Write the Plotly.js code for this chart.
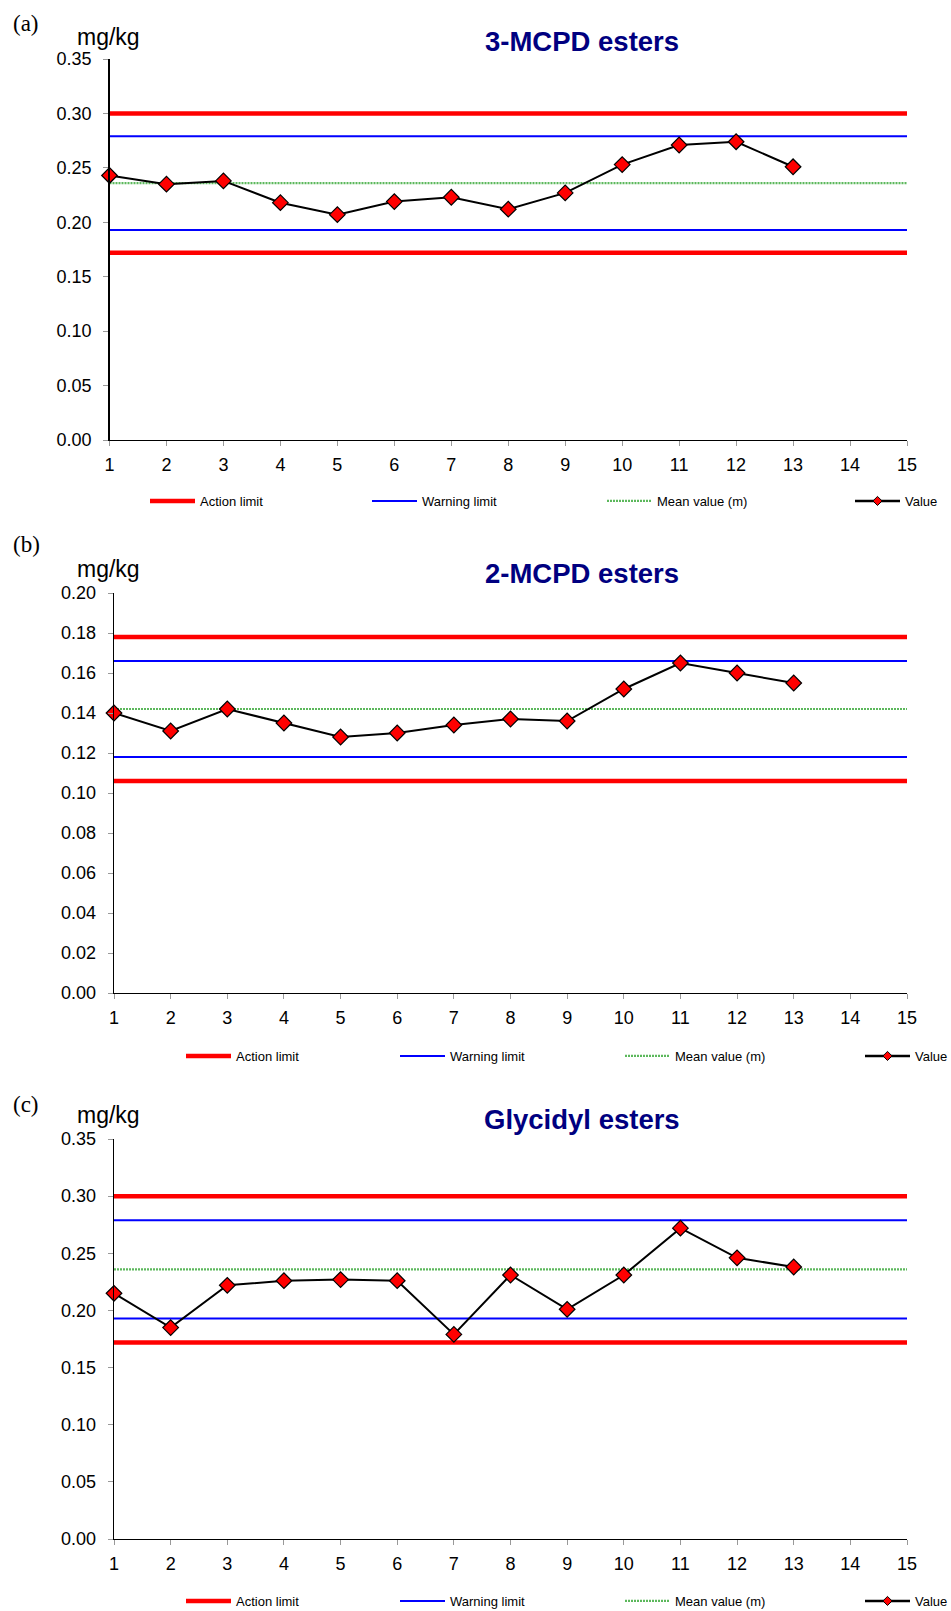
<!DOCTYPE html>
<html><head><meta charset="utf-8">
<script src="https://cdn.plot.ly/plotly-3.0.1.min.js"></script>
<style>html,body{margin:0;padding:0;background:#fff;overflow:hidden}#chart{width:951px;height:1611px}</style>
</head><body><div id="chart"></div>
<script>
// ---------- data ----------
const runs = [1,2,3,4,5,6,7,8,9,10,11,12,13];
const xSpan = [1, 15];
const xTickVals = [1,2,3,4,5,6,7,8,9,10,11,12,13,14,15];

const panelLabels = ['(a)', '(b)', '(c)'];
const panelTitles = ['3-MCPD esters', '2-MCPD esters', 'Glycidyl esters'];
const unitLabel = 'mg/kg';
const legendNames = ['Action limit', 'Warning limit', 'Mean value (m)', 'Value'];

// (a) 3-MCPD esters
const mcpd3Values = [0.243,0.235,0.238,0.218,0.207,0.219,0.223,0.212,0.227,0.253,0.271,0.274,0.251];
const mcpd3Mean = 0.236;
const mcpd3Warning = [0.193, 0.279];
const mcpd3Action = [0.172, 0.300];
const mcpd3YRange = [0, 0.35];
const mcpd3YStep = 0.05;

// (b) 2-MCPD esters
const mcpd2Values = [0.140,0.131,0.142,0.135,0.128,0.130,0.134,0.137,0.136,0.152,0.165,0.160,0.155];
const mcpd2Mean = 0.142;
const mcpd2Warning = [0.118, 0.166];
const mcpd2Action = [0.106, 0.178];
const mcpd2YRange = [0, 0.20];
const mcpd2YStep = 0.02;

// (c) Glycidyl esters
const geValues = [0.215,0.185,0.222,0.226,0.227,0.226,0.179,0.231,0.201,0.231,0.272,0.246,0.238];
const geMean = 0.236;
const geWarning = [0.193, 0.279];
const geAction = [0.172, 0.300];
const geYRange = [0, 0.35];
const geYStep = 0.05;

const panels = [
  {values: mcpd3Values, mean: mcpd3Mean, warn: mcpd3Warning, act: mcpd3Action, yr: mcpd3YRange, step: mcpd3YStep},
  {values: mcpd2Values, mean: mcpd2Mean, warn: mcpd2Warning, act: mcpd2Action, yr: mcpd2YRange, step: mcpd2YStep},
  {values: geValues, mean: geMean, warn: geWarning, act: geAction, yr: geYRange, step: geYStep}
];

// ---------- layout geometry (pixels) ----------
const W = 951, H = 1611;
const geo = [
  {x0: 109.5, x1: 907, top: 59, bottom: 440, legendY: 501, legendX: [150, 372, 607, 855], labelY: 23, unitY: 37, titleY: 41},
  {x0: 114, x1: 907, top: 593, bottom: 993, legendY: 1056, legendX: [186, 400, 625, 865], labelY: 544, unitY: 569, titleY: 573},
  {x0: 114, x1: 907, top: 1139, bottom: 1539, legendY: 1601, legendX: [186, 400, 625, 865], labelY: 1104, unitY: 1115, titleY: 1119}
];
const px = v => v / W;
const py = v => 1 - v / H;

const FONT = 'Liberation Sans, Arial, sans-serif';
const traces = [];
const layout = {
  width: W, height: H,
  margin: {l: 0, r: 0, t: 0, b: 0, autoexpand: false},
  paper_bgcolor: '#fff', plot_bgcolor: '#fff',
  font: {family: FONT, color: '#000'},
  showlegend: true,
  annotations: []
};

panels.forEach((p, i) => {
  const g = geo[i];
  const sfx = i === 0 ? '' : String(i + 1);
  const xa = 'x' + sfx, ya = 'y' + sfx;
  const lg = k => { const n = i * 4 + k + 1; return n === 1 ? 'legend' : 'legend' + n; };

  traces.push({
    type: 'scatter', mode: 'lines', name: legendNames[0], xaxis: xa, yaxis: ya, legend: lg(0),
    x: [xSpan[0], xSpan[1], null, xSpan[0], xSpan[1]],
    y: [p.act[0], p.act[0], null, p.act[1], p.act[1]],
    line: {color: '#ff0000', width: 4.5}, hoverinfo: 'skip'
  });
  traces.push({
    type: 'scatter', mode: 'lines', name: legendNames[1], xaxis: xa, yaxis: ya, legend: lg(1),
    x: [xSpan[0], xSpan[1], null, xSpan[0], xSpan[1]],
    y: [p.warn[0], p.warn[0], null, p.warn[1], p.warn[1]],
    line: {color: '#0000ff', width: 2}, hoverinfo: 'skip'
  });
  traces.push({
    type: 'scatter', mode: 'lines', name: legendNames[2], xaxis: xa, yaxis: ya, legend: lg(2),
    x: [xSpan[0], xSpan[1]], y: [p.mean, p.mean],
    line: {color: '#5cb85c', width: 2.2, dash: '2px,1px'}, hoverinfo: 'skip'
  });
  traces.push({
    type: 'scatter', mode: 'lines+markers', name: legendNames[3], xaxis: xa, yaxis: ya,
    showlegend: false,
    x: runs, y: p.values, cliponaxis: false,
    line: {color: '#000', width: 2},
    marker: {symbol: 'diamond', size: 12, color: '#ff0000', line: {color: '#000', width: 1.2}}
  });
  // legend entry for the Value series (smaller marker, as in the original key)
  traces.push({
    type: 'scatter', mode: 'lines+markers', name: legendNames[3], xaxis: xa, yaxis: ya, legend: lg(3),
    x: [null], y: [null],
    line: {color: '#000', width: 2.5},
    marker: {symbol: 'diamond', size: 7, color: '#ff0000', line: {color: '#000', width: 1}}
  });

  const ticks = [];
  for (let v = p.yr[0]; v <= p.yr[1] + 1e-9; v += p.step) ticks.push(+v.toFixed(4));

  layout['xaxis' + sfx] = {
    domain: [px(g.x0), px(g.x1)], anchor: ya, range: xSpan,
    tickvals: xTickVals, ticks: 'outside', ticklen: 5, tickcolor: '#999', tickwidth: 1,
    showline: true, linecolor: '#000', linewidth: 1.3, showgrid: false, zeroline: false,
    tickfont: {family: FONT, size: 18, color: '#000'}, ticklabelstandoff: 3, fixedrange: true
  };
  layout['yaxis' + sfx] = {
    domain: [py(g.bottom), py(g.top)], anchor: xa, range: p.yr,
    tickvals: ticks, tickformat: '.2f', ticks: 'outside', ticklen: 5, tickcolor: '#999', tickwidth: 1,
    showline: true, linecolor: '#000', linewidth: 1.3, showgrid: false, zeroline: false,
    tickfont: {family: FONT, size: 18, color: '#000'}, ticklabelstandoff: 8, fixedrange: true
  };

  for (let k = 0; k < 4; k++) {
    layout[lg(k)] = {
      x: px(g.legendX[k] - 5), y: py(g.legendY), xanchor: 'left', yanchor: 'middle',
      orientation: 'h', bgcolor: 'rgba(0,0,0,0)', borderwidth: 0,
      font: {family: FONT, size: 13, color: '#000'}, itemwidth: 45, tracegroupgap: 0
    };
  }

  layout.annotations.push(
    {xref: 'paper', yref: 'paper', x: px(11), y: py(g.labelY), xanchor: 'left', yanchor: 'middle',
     text: panelLabels[i], showarrow: false, font: {family: 'Liberation Serif, Times New Roman, serif', size: 23, color: '#000'}},
    {xref: 'paper', yref: 'paper', x: px(108), y: py(g.unitY), xanchor: 'center', yanchor: 'middle',
     text: unitLabel, showarrow: false, font: {family: FONT, size: 23, color: '#000'}},
    {xref: 'paper', yref: 'paper', x: px(582), y: py(g.titleY), xanchor: 'center', yanchor: 'middle',
     text: '<b>' + panelTitles[i] + '</b>', showarrow: false, font: {family: FONT, size: 27.5, color: '#000080'}}
  );
});

Plotly.newPlot('chart', traces, layout, {staticPlot: true, displayModeBar: false});
</script>
</body></html>
